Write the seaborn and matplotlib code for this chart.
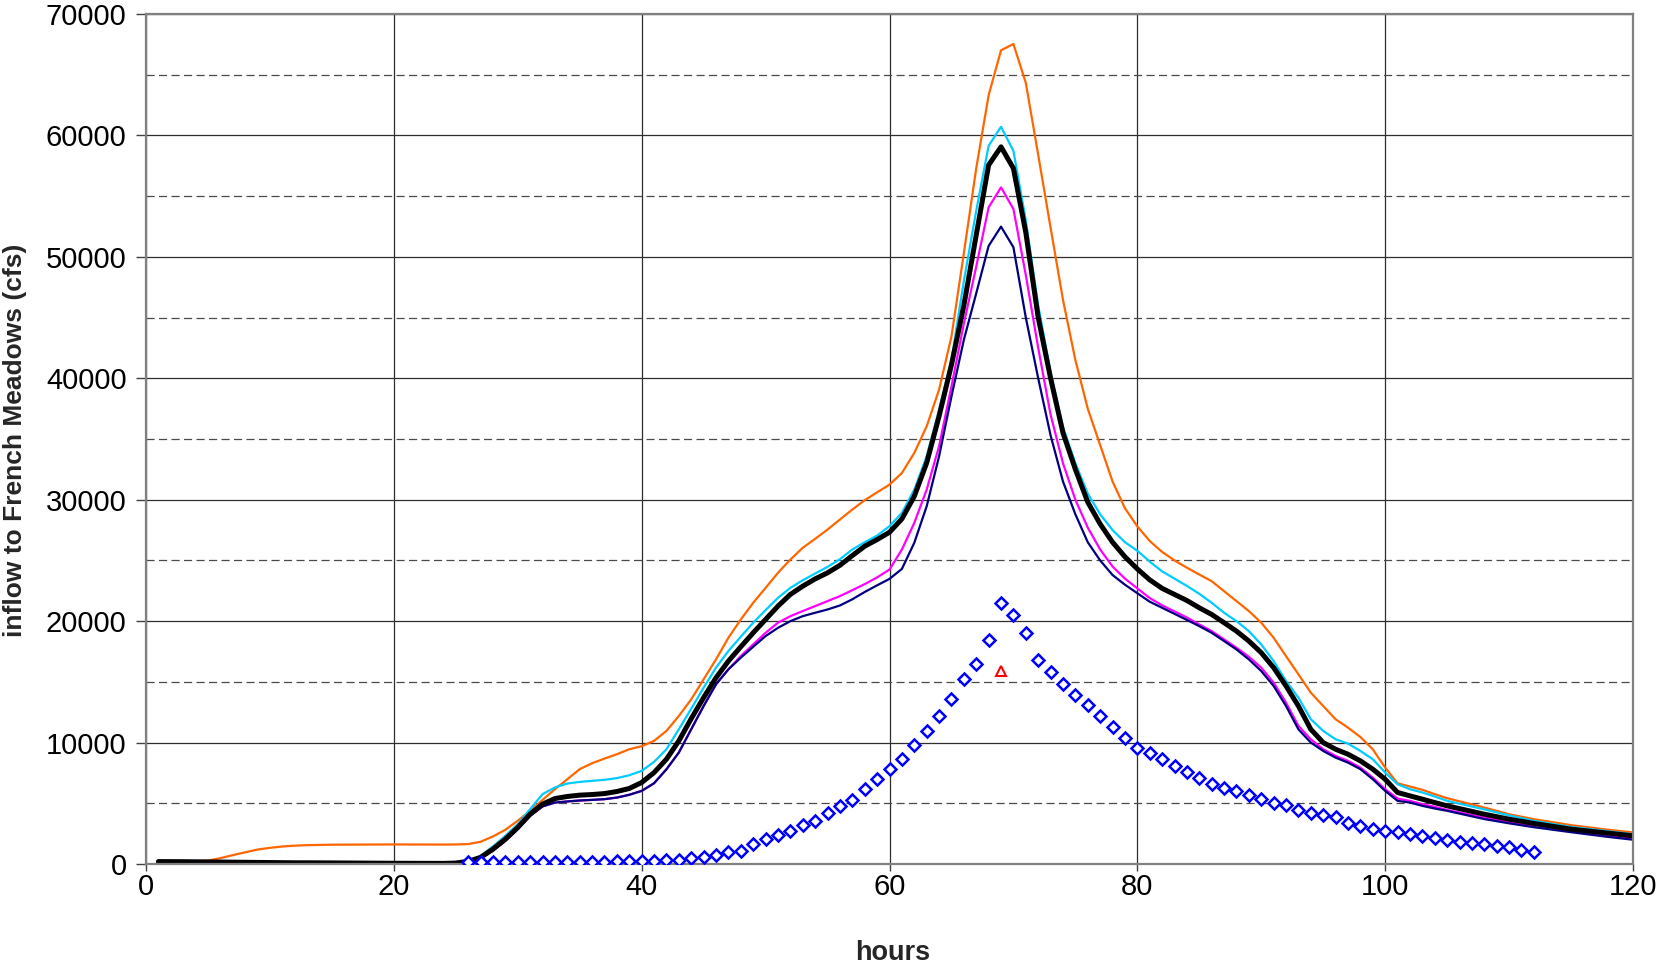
import numpy as np
import pandas as pd
import matplotlib
matplotlib.use("Agg")
import matplotlib.pyplot as plt
import seaborn as sns
from matplotlib.ticker import MultipleLocator
from matplotlib import font_manager

# ---------------- data ----------------
hours = ([1, 3, 5, 6, 7, 8, 9, 10, 11, 12, 13, 15, 20, 24]
         + list(range(25, 106))
         + [108, 110, 112, 115, 118, 120])

early_low = [200, 190, 170, 160, 150, 140, 130, 120, 110, 100, 100, 90, 60, 50]

orange = ([200, 210, 280, 480, 730, 960, 1190, 1330, 1440, 1510, 1550, 1590, 1610, 1600]
          + [1610, 1640, 1830, 2270, 2820, 3560, 4380, 5280, 6160, 6980,
             7810, 8300, 8680, 9040, 9450, 9700, 10140, 10960, 12190, 13560,
             15210, 16850, 18630, 20140, 21510, 22740, 23980, 25070, 26040, 26780,
             27540, 28370, 29190, 29960, 30610, 31240, 32200, 33850, 36040, 39060,
             43440, 50300, 57300, 63310, 67010, 67530, 64330, 58400, 52400, 46460,
             41500, 37500, 34500, 31500, 29300, 27800, 26600, 25700, 25000, 24400,
             23840, 23290, 22470, 21650, 20830, 19870, 18630, 17120, 15620, 14110,
             13010, 11920, 11230, 10460, 9450, 7940, 6650, 6380, 6110, 5750, 5420]
          + [4650, 4100, 3690, 3200, 2820, 2600])

cyan = (early_low
        + [80, 250, 680, 1450, 2320, 3280, 4520, 5750, 6300, 6630,
           6760, 6850, 6930, 7070, 7310, 7670, 8410, 9450, 11100, 12790,
           14520, 16170, 17540, 18720, 19870, 20910, 21920, 22740, 23370, 23920,
           24470, 25100, 25900, 26500, 27050, 27820, 28910, 30830, 33570, 37410,
           41520, 48000, 53800, 59150, 60710, 58730, 53000, 46000, 40500, 36000,
           33000, 30500, 28800, 27500, 26500, 25800, 24900, 24100, 23500, 22900,
           22250, 21510, 20690, 20000, 19180, 18080, 16710, 15070, 13700, 11920,
           10960, 10270, 9920, 9310, 8630, 7530, 6570, 6160, 5890, 5560, 5200]
        + [4500, 4000, 3550, 3050, 2700, 2450])

black = (early_low
         + [80, 220, 540, 1230, 2050, 3010, 4110, 4930, 5390, 5560,
            5670, 5720, 5800, 5970, 6220, 6710, 7530, 8630, 10140, 11970,
            13700, 15340, 16710, 17890, 19040, 20140, 21240, 22200, 22880, 23480,
            23980, 24600, 25400, 26170, 26720, 27320, 28420, 30280, 33030, 36870,
            41110, 46000, 51800, 57560, 59060, 57290, 52000, 45000, 40000, 35500,
            32500, 29800, 28000, 26500, 25300, 24300, 23400, 22700, 22200, 21700,
            21100, 20550, 19870, 19180, 18360, 17400, 16170, 14660, 13010, 11090,
            10000, 9450, 9040, 8490, 7810, 6980, 5890, 5610, 5340, 5060, 4790]
         + [4100, 3690, 3340, 2870, 2540, 2320])

magenta = (early_low
           + [60, 180, 480, 1100, 1910, 2870, 3970, 4740, 5060, 5150,
              5230, 5280, 5340, 5470, 5700, 6020, 6650, 7800, 9180, 11100,
              13010, 14800, 16030, 17130, 18080, 19040, 19870, 20410, 20830, 21240,
              21650, 22060, 22550, 23050, 23600, 24250, 25900, 28090, 30830, 34400,
              39330, 44500, 49200, 54080, 55720, 53940, 48500, 42500, 37000, 33000,
              30000, 27700, 25900, 24500, 23500, 22700, 21900, 21300, 20800, 20300,
              19730, 19180, 18500, 17810, 17070, 16170, 14930, 13290, 11370, 10270,
              9450, 8900, 8490, 7940, 7120, 6160, 5390, 5200, 4930, 4710, 4450]
           + [3830, 3470, 3150, 2740, 2320, 2100])

navy = (early_low
        + [60, 180, 480, 1100, 1910, 2870, 3970, 4740, 5060, 5150,
           5230, 5280, 5340, 5470, 5700, 6020, 6650, 7800, 9180, 11100,
           13010, 14800, 16030, 16990, 17890, 18770, 19450, 20000, 20410, 20690,
           20960, 21290, 21800, 22400, 22950, 23480, 24300, 26450, 29460, 33570,
           38500, 43170, 47000, 50900, 52490, 50790, 45000, 40000, 35300, 31500,
           28800, 26500, 25000, 23800, 23000, 22300, 21600, 21100, 20600, 20100,
           19590, 19040, 18360, 17670, 16850, 15890, 14660, 13010, 11090, 10000,
           9310, 8760, 8350, 7810, 6980, 6020, 5200, 5060, 4790, 4570, 4380]
        + [3700, 3350, 3030, 2620, 2230, 2000])

obs_hours = list(range(26, 113))
obs_flow = [150, 150, 150, 150, 160, 160, 170, 170, 180, 180,
            190, 200, 210, 220, 240, 270, 310, 330, 460, 600,
            740, 950, 1100, 1640, 2100, 2400, 2750, 3180, 3550, 4200,
            4790, 5280, 6160, 6980, 7800, 8680, 9800, 10950, 12190, 13560,
            15200, 16500, 18410, 21510, 20470, 19040, 16800, 15800, 14800, 13920,
            13080, 12180, 11290, 10380, 9560, 9180, 8680, 8080, 7590, 7090,
            6570, 6300, 6020, 5670, 5390, 5060, 4840, 4460, 4190, 4020,
            3830, 3370, 3150, 2870, 2700, 2600, 2460, 2320, 2180, 2000,
            1830, 1720, 1610, 1500, 1360, 1170, 1010]

peak_hour = [69]
peak_flow = [15890]

x_ticks = [0, 20, 40, 60, 80, 100, 120]
y_ticks = [0, 10000, 20000, 30000, 40000, 50000, 60000, 70000]

# ---------------- style ----------------
sns.set_theme(style="white")
plt.rcParams["font.family"] = ["Liberation Sans", "DejaVu Sans"]

names = {f.name for f in font_manager.fontManager.ttflist}
if "Liberation Sans Narrow" in names:
    ylab_family, ylab_size = ["Liberation Sans Narrow", "DejaVu Sans"], 22.5
else:
    ylab_family, ylab_size = ["Liberation Sans", "DejaVu Sans"], 19

W, H = 1657, 967
fig = plt.figure(figsize=(W / 100, H / 100), dpi=100)
ax = fig.add_axes([146 / W, 1 - 864 / H, (1633 - 146) / W, (864 - 14) / H])

ax.set_xlim(0, 120)
ax.set_ylim(0, 70000)
ax.set_xticks(x_ticks)
ax.set_yticks(y_ticks)
ax.yaxis.set_minor_locator(MultipleLocator(5000))
ax.grid(which="major", axis="both", color="#2e2e2e", linewidth=0.9, linestyle="-")
ax.grid(which="minor", axis="y", color="#4a4a4a", linewidth=0.9,
        linestyle=(0, (6.5, 3.5)))
ax.set_axisbelow(True)

lines = [
    ("orange", orange, "#FF6600", 1.6),
    ("cyan", cyan, "#00CCFF", 1.6),
    ("magenta", magenta, "#FF00FF", 1.6),
    ("navy", navy, "#000080", 1.6),
    ("black", black, "#000000", 3.6),
]
for name, vals, col, lw in lines:
    df = pd.DataFrame({"hours": hours, "flow": vals})
    sns.lineplot(data=df, x="hours", y="flow", ax=ax, color=col, linewidth=lw,
                 estimator=None, sort=False, legend=False)

obs = pd.DataFrame({"hours": obs_hours, "flow": obs_flow})
ax.plot(obs["hours"], obs["flow"], linestyle="none", marker="D", markersize=6,
        markerfacecolor="white", markeredgecolor="#0000FF", markeredgewidth=1.8,
        zorder=5)
ax.plot(peak_hour, peak_flow, linestyle="none", marker="^", markersize=7.5,
        markerfacecolor="none", markeredgecolor="#FF0000", markeredgewidth=1.5,
        zorder=6)

for s in ax.spines.values():
    s.set_color("#808080")
    s.set_linewidth(1.6)
ax.tick_params(axis="both", which="major", direction="out", width=1,
               color="#404040", labelsize=21, labelcolor="black",
               left=True, bottom=True)
ax.tick_params(axis="y", which="major", length=7, pad=7)
ax.tick_params(axis="x", which="major", length=5, pad=1.5)
ax.tick_params(axis="y", which="minor", length=0)
ax.set_xlabel("")
ax.set_ylabel("")
ax.set_yticklabels([str(v) for v in y_ticks])
ax.set_xticklabels([str(v) for v in x_ticks])

fig.text(15 / W, 1 - 440 / H, "inflow to French Meadows (cfs)", rotation=90,
         ha="center", va="center", fontsize=ylab_size, fontweight="bold",
         family=ylab_family)
fig.text(893 / W, 1 - 953 / H, "hours", ha="center", va="center",
         fontsize=19.5, fontweight="bold")

fig.savefig("out.png", dpi=100)
